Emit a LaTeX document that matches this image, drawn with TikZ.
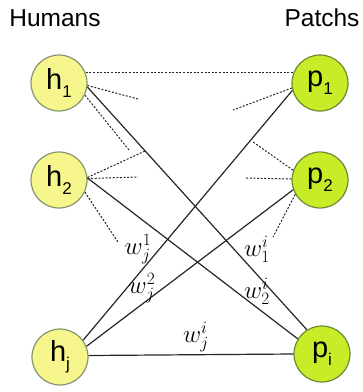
\documentclass[tikz,border=0pt]{standalone}
\usepackage{fontspec}
\setmainfont{Liberation Sans}
\definecolor{hfill}{RGB}{246,246,140}
\definecolor{hdraw}{RGB}{135,148,112}
\definecolor{pfill}{RGB}{200,236,40}
\definecolor{pdraw}{RGB}{105,140,50}
\newcommand{\nsub}[1]{\raisebox{-0.28em}{\fontsize{17}{17}\selectfont #1}}
\tikzset{
  hnode/.style={circle, minimum size=56pt, inner sep=0pt, fill=hfill, draw=hdraw, line width=1.2pt, font=\fontsize{29}{29}\selectfont},
  pnode/.style={circle, minimum size=56pt, inner sep=0pt, fill=pfill, draw=pdraw, line width=1.2pt, font=\fontsize{29}{29}\selectfont},
  solidline/.style={line width=1.2pt, black!85},
  dashline/.style={line width=1pt, black!85, dash pattern=on 2pt off 1.6pt},
  title/.style={font=\fontsize{24.5}{24.5}\selectfont, inner sep=0pt},
  wlabel/.style={font=\fontsize{27}{27}\selectfont, inner sep=0pt}
}
\begin{document}
\begin{tikzpicture}[x=1pt,y=-1pt]
\useasboundingbox (0,0) rectangle (363,392);
\node[title] (th) at (55,18) {Humans};
\node[title] (tp) at (322,18) {Patchs};
\node[hnode] (h1) at (59,83) {h\nsub{1}};
\node[hnode] (h2) at (59,180) {h\nsub{2}};
\node[hnode] (hj) at (60,357) {h\nsub{j}};
\node[pnode] (p1) at (320,83) {p\nsub{1}};
\node[pnode] (p2) at (320,180) {p\nsub{2}};
\node[pnode] (pi) at (322,354) {p\nsub{i}};
% free ends of the short dashed connectors
\coordinate (a1) at (138,99);
\coordinate (a2) at (129,150);
\coordinate (b1) at (145,151);
\coordinate (b2) at (138,177);
\coordinate (b3) at (118,242);
\coordinate (c1) at (233,110);
\coordinate (d1) at (253,142);
\coordinate (d2) at (245,178);
\coordinate (d3) at (273,237);
% dashed
\draw[dashline] (h1.21) -- (p1.159);
\draw[dashline] (h1.-5) -- (a1);
\draw[dashline] (h1.-25) -- (a2);
\draw[dashline] (h2.5) -- (b1);
\draw[dashline] (h2.3) -- (b2);
\draw[dashline] (h2.-25) -- (b3);
\draw[dashline] (p1.190) -- (c1);
\draw[dashline] (p2.160) -- (d1);
\draw[dashline] (p2.178) -- (d2);
\draw[dashline] (p2.-150) -- (d3);
% solid
\draw[solidline] (h1.-8) -- (pi.122);
\draw[solidline] (h2.4) -- (pi.148);
\draw[solidline] (hj.36) -- (p1.195);
\draw[solidline] (hj.22) -- (p2.200);
\draw[solidline] (hj.3) -- (pi.180);
% labels
\node[wlabel] (w1) at (138,249) {$w_j^1$};
\node[wlabel] (w2) at (142,288) {$w_j^2$};
\node[wlabel] (w3) at (257,249) {$w_1^i$};
\node[wlabel] (w4) at (257,291) {$w_2^i$};
\node[wlabel] (w5) at (196,337) {$w_j^i$};
\end{tikzpicture}
\end{document}
